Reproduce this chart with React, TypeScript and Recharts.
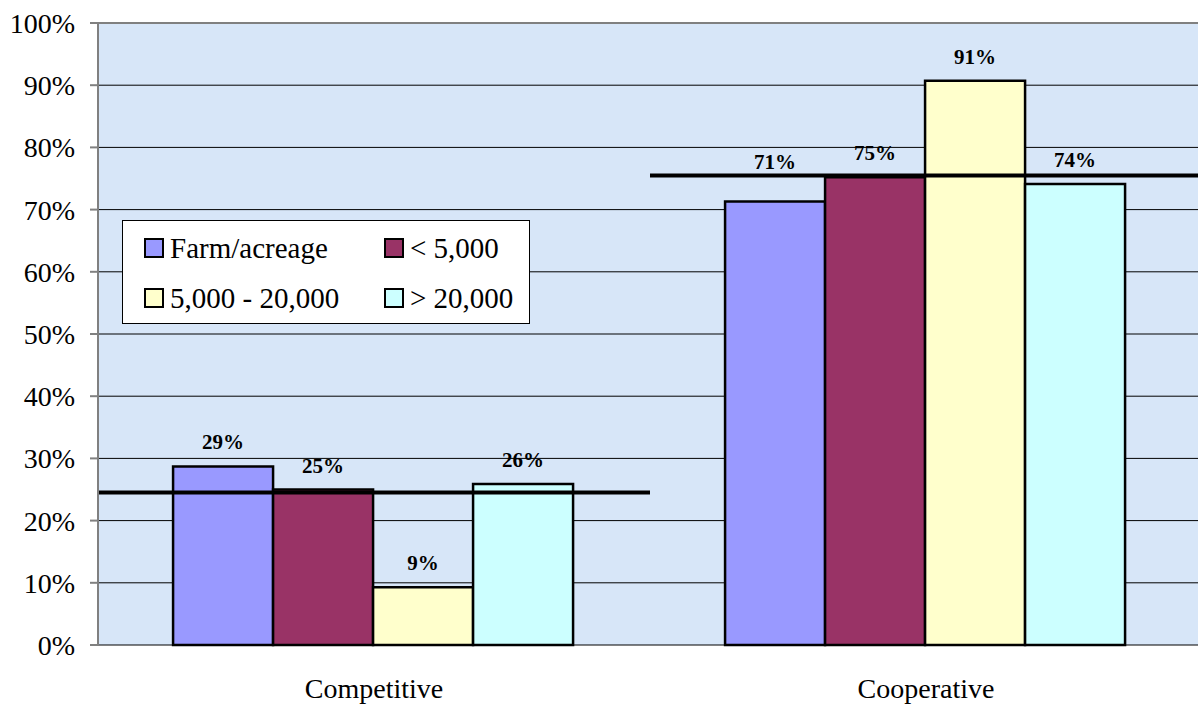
import React from "react";
import { BarChart, Bar, XAxis, YAxis, CartesianGrid, ReferenceLine, LabelList } from "recharts";

// values (percent)
const categories = ["Competitive", "Cooperative"];
const farmAcreage = [28.7, 71.3];
const under5000 = [25.0, 75.2];
const from5000to20000 = [9.3, 90.7];
const over20000 = [25.9, 74.1];
const overall = [24.5, 75.5]; // the two black average lines

const yTicks = [0, 10, 20, 30, 40, 50, 60, 70, 80, 90, 100];

const series = [
  { key: "farm", name: "Farm/acreage", color: "#9999FF", values: farmAcreage },
  { key: "small", name: "< 5,000", color: "#993366", values: under5000 },
  { key: "mid", name: "5,000 - 20,000", color: "#FFFFCC", values: from5000to20000 },
  { key: "large", name: "> 20,000", color: "#CCFFFF", values: over20000 },
];

const data = categories.map((c, i) => {
  const row: Record<string, any> = { name: c };
  series.forEach((s) => (row[s.key] = s.values[i]));
  return row;
});

const serif = "Liberation Serif";
const plotTop = 23;
const plotHeight = 622;

// data label: sits above the bar, but moves above the average line when it would sit on it (like Excel did)
function BarLabel(props: any) {
  const { x, y, width, value, index } = props;
  const lineY = plotTop + plotHeight * (1 - overall[index] / 100);
  let cy = y - 24;
  if (Math.abs(cy - lineY) < 12) cy = lineY - 13;
  return (
    <text
      x={x + width / 2}
      y={cy}
      textAnchor="middle"
      dominantBaseline="central"
      fill="#000"
      fontSize={21}
      fontWeight="bold"
      fontFamily={serif}
    >
      {`${Math.round(Number(value))}%`}
    </text>
  );
}

function LegendBox() {
  return (
    <div
      style={{
        position: "absolute",
        left: 122,
        top: 220,
        width: 408,
        height: 104,
        boxSizing: "border-box",
        background: "#fff",
        border: "1px solid #000",
        display: "grid",
        gridTemplateColumns: "240px 160px",
        gridTemplateRows: "50px 50px",
        paddingLeft: 21,
        paddingTop: 2,
        fontFamily: serif,
        fontSize: 29,
        color: "#000",
      }}
    >
      {series.map((s) => (
        <div key={s.key} style={{ display: "flex", alignItems: "center", whiteSpace: "nowrap" }}>
          <span
            style={{
              display: "inline-block",
              width: 16,
              height: 16,
              background: s.color,
              border: "2px solid #000",
              marginRight: 6,
            }}
          />
          {s.name}
        </div>
      ))}
    </div>
  );
}

export default function App() {
  return (
    <div
      style={{
        position: "absolute",
        left: 0,
        top: 0,
        width: 1198,
        height: 705,
        overflow: "hidden",
        background: "#fff",
        fontFamily: serif,
      }}
    >
      <BarChart
        width={1204}
        height={705}
        data={data}
        margin={{ top: plotTop, right: 2, left: 0, bottom: 0 }}
        barCategoryGap="13.6%"
        barGap={0}
        style={{ fontFamily: serif }}
      >
        <CartesianGrid horizontal vertical={false} stroke="#000" strokeWidth={1} fill="#d7e6f8" fillOpacity={1} />
        <XAxis
          xAxisId="num"
          type="number"
          domain={[0, 1]}
          allowDataOverflow
          ticks={[0, 0.5, 1]}
          tick={false}
          tickSize={8}
          height={0}
          stroke="#808080"
          strokeWidth={2}
        />
        <XAxis
          xAxisId="cat"
          dataKey="name"
          axisLine={false}
          tickLine={false}
          tickSize={0}
          tickMargin={33}
          height={60}
          tick={{ fill: "#000", fontSize: 28, fontFamily: serif }}
        />
        <YAxis
          domain={[0, 100]}
          ticks={yTicks}
          width={98}
          tickSize={8}
          tickMargin={15}
          tickFormatter={(v: number) => `${v}%`}
          stroke="#808080"
          strokeWidth={2}
          tick={{ fill: "#000", fontSize: 28, fontFamily: serif }}
          interval={0}
        />
        <ReferenceLine xAxisId="num" y={100} stroke="#808080" strokeWidth={2} />
        {series.map((s) => (
          <Bar
            key={s.key}
            xAxisId="cat"
            dataKey={s.key}
            name={s.name}
            fill={s.color}
            stroke="#000"
            strokeWidth={2.5}
            isAnimationActive={false}
          >
            <LabelList dataKey={s.key} content={<BarLabel />} />
          </Bar>
        ))}
        {overall.map((v, i) => (
          <ReferenceLine
            key={i}
            xAxisId="num"
            segment={[
              { x: i / 2, y: v },
              { x: (i + 1) / 2, y: v },
            ]}
            stroke="#000"
            strokeWidth={4}
          />
        ))}
      </BarChart>
      <LegendBox />
    </div>
  );
}
